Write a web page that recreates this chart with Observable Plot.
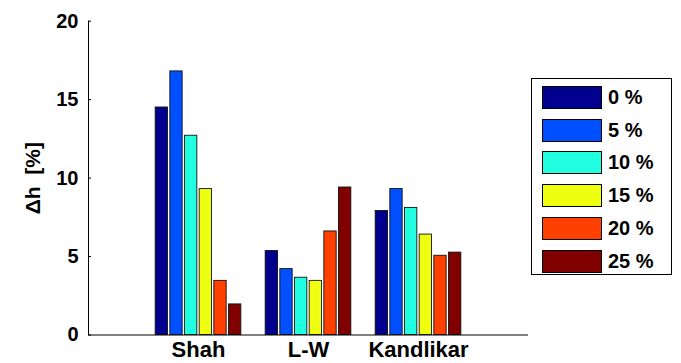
<!DOCTYPE html>
<html>
<head>
<meta charset="utf-8">
<script src="https://cdn.jsdelivr.net/npm/d3@7"></script>
<script src="https://cdn.jsdelivr.net/npm/@observablehq/plot@0.6"></script>
<style>
  html, body { margin: 0; padding: 0; background: #fff; }
  #wrap { position: relative; width: 681px; height: 363px; font-family: "Liberation Sans", Arial, sans-serif; font-weight: bold; }
  #legend { position: absolute; left: 531px; top: 78px; width: 141px; height: 197px; border: 1px solid #000; background: #fff; box-sizing: border-box; }
  .row { position: absolute; left: 10px; height: 23px; display: flex; align-items: center; }
  .sw { width: 60px; height: 23px; border: 1px solid #000; box-sizing: border-box; }
  .lb { margin-left: 6px; font-size: 20px; color: #000; }
</style>
</head>
<body>
<div id="wrap"></div>
<script>
const groups = ["Shah", "L-W", "Kandlikar"];
const series = ["0 %", "5 %", "10 %", "15 %", "20 %", "25 %"];
const shahValues = [14.5, 16.8, 12.7, 9.3, 3.45, 1.95];
const lwValues = [5.35, 4.2, 3.65, 3.45, 6.6, 9.4];
const kandlikarValues = [7.9, 9.3, 8.1, 6.4, 5.05, 5.25];
const colors = ["#00008F", "#0050FF", "#20FFDF", "#EFFF10", "#FF4000", "#800000"];
const yTicks = [0, 5, 10, 15, 20];

const valuesByGroup = [shahValues, lwValues, kandlikarValues];
const data = [];
groups.forEach((g, gi) => {
  series.forEach((s, si) => {
    data.push({group: g, gi: gi + 1, series: s, si, value: valuesByGroup[gi][si]});
  });
});

const step = 0.8 / series.length;
const barW = step * 0.84;
const center = d => d.gi + (d.si - (series.length - 1) / 2) * step;

const W = 681, H = 363;
const mL = 88, mR = 153, mT = 20.7, mB = 28.5;

const chart = Plot.plot({
  width: W,
  height: H,
  marginLeft: mL,
  marginRight: mR,
  marginTop: mT,
  marginBottom: mB,
  style: {fontFamily: "'Liberation Sans', Arial, sans-serif", fontWeight: "bold", background: "#fff", color: "#000"},
  x: {type: "linear", domain: [0, groups.length + 1]},
  y: {domain: [0, 20]},
  color: {domain: series, range: colors},
  marks: [
    Plot.rectY(data, {
      x1: d => center(d) - barW / 2,
      x2: d => center(d) + barW / 2,
      y1: 0,
      y2: "value",
      fill: "series",
      stroke: "#111",
      strokeWidth: 0.9
    }),
    Plot.ruleX([0], {stroke: "#000", strokeWidth: 1}),
    Plot.ruleY([0], {stroke: "#000", strokeWidth: 1}),
    Plot.tickY(yTicks, {y: d => d, stroke: "#000", strokeWidth: 1, insetRight: W - mL - mR - 3}),
    Plot.axisY({ticks: yTicks, tickSize: 0, tickPadding: 10, fontSize: 20, label: null}),
    Plot.axisX({ticks: groups.map((g, i) => i + 1), tickFormat: v => groups[v - 1], tickSize: 0, tickPadding: 6, fontSize: 22, label: null}),
    Plot.text(["Δh  [%]"], {frameAnchor: "left", textAnchor: "middle", rotate: -90, dx: -55, fontSize: 21, fontWeight: "bold", fill: "#000"})
  ]
});

const wrap = document.getElementById("wrap");
wrap.appendChild(chart);

const legend = document.createElement("div");
legend.id = "legend";
series.forEach((s, i) => {
  const row = document.createElement("div");
  row.className = "row";
  row.style.top = (7 + i * 32.7) + "px";
  const sw = document.createElement("div");
  sw.className = "sw";
  sw.style.background = colors[i];
  const lb = document.createElement("span");
  lb.className = "lb";
  lb.textContent = s;
  row.appendChild(sw);
  row.appendChild(lb);
  legend.appendChild(row);
});
wrap.appendChild(legend);
</script>
</body>
</html>
